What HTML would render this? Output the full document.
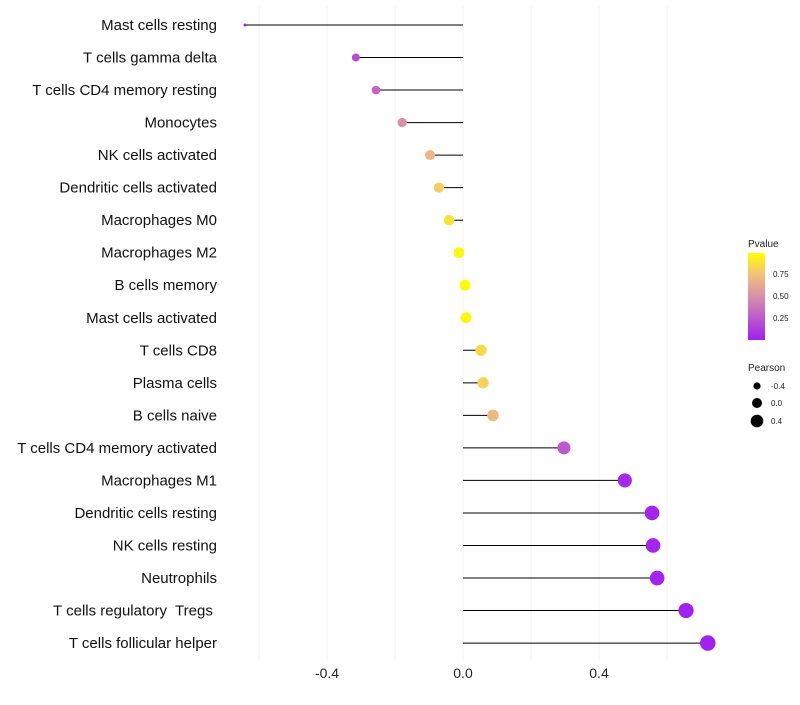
<!DOCTYPE html>
<html><head><meta charset="utf-8"><style>
body{margin:0;background:#fff;font-family:"Liberation Sans",sans-serif}
text{white-space:pre}
</style></head><body>
<svg id="chart" width="800" height="700" xmlns="http://www.w3.org/2000/svg">
<defs><linearGradient id="pg" x1="0" y1="1" x2="0" y2="0"><stop offset="0" stop-color="#A020F0"/><stop offset="0.5" stop-color="#DA8FAA"/><stop offset="0.75" stop-color="#F2C07C"/><stop offset="1" stop-color="#FFFF00"/></linearGradient></defs>
<g id="grid"></g><g id="marks"></g><g id="labels"></g>
<g>
<text x="748" y="247" font-size="10" fill="#222">Pvalue</text>
<rect x="748" y="253" width="17" height="87" fill="url(#pg)"/>
<text x="773" y="277" font-size="8" fill="#222">0.75</text>
<text x="773" y="299" font-size="8" fill="#222">0.50</text>
<text x="773" y="321" font-size="8" fill="#222">0.25</text>
</g>
<g>
<text x="748" y="371" font-size="10" fill="#222">Pearson</text>
<circle cx="757" cy="386" r="3.6" fill="#000"/><text x="771" y="389" font-size="8" fill="#222">-0.4</text>
<circle cx="757" cy="403" r="5" fill="#000"/><text x="771" y="406" font-size="8" fill="#222">0.0</text>
<circle cx="757" cy="421" r="6.3" fill="#000"/><text x="771" y="424" font-size="8" fill="#222">0.4</text>
</g>
</svg>
<script>
const categories=["Mast cells resting","T cells gamma delta","T cells CD4 memory resting","Monocytes","NK cells activated","Dendritic cells activated","Macrophages M0","Macrophages M2","B cells memory","Mast cells activated","T cells CD8","Plasma cells","B cells naive","T cells CD4 memory activated","Macrophages M1","Dendritic cells resting","NK cells resting","Neutrophils","T cells regulatory  Tregs ","T cells follicular helper"];
const pearson=[-0.641,-0.315,-0.256,-0.179,-0.097,-0.071,-0.041,-0.012,0.006,0.009,0.053,0.059,0.088,0.297,0.476,0.556,0.559,0.571,0.656,0.72];
const pvalues=[0.003,0.2,0.3,0.5,0.7,0.8,0.88,0.96,0.98,0.97,0.85,0.82,0.72,0.25,0.04,0.02,0.02,0.02,0.01,0.005];
const xTicks=[-0.4,0.0,0.4];
const gridVals=[-0.6,-0.4,-0.2,0,0.2,0.4,0.6];
const NS="http://www.w3.org/2000/svg";
const x=v=>463+v*340;
const y=i=>25+i*32.53;
function mk(t,a,p){const e=document.createElementNS(NS,t);for(const k in a)e.setAttribute(k,a[k]);p.appendChild(e);return e;}
const stops=[[0,[160,32,240]],[0.5,[218,143,170]],[0.75,[242,192,124]],[1,[255,255,0]]];
function col(p){for(let k=1;k<stops.length;k++){if(p<=stops[k][0]){const a=stops[k-1],b=stops[k];const t=(p-a[0])/(b[0]-a[0]);return "rgb("+a[1].map((c,i)=>Math.round(c+(b[1][i]-c)*t)).join(",")+")";}}return "rgb(255,255,0)";}
const vmin=Math.min(...pearson),vmax=Math.max(...pearson);
function rad(v){const t=(v-vmin)/(vmax-vmin);return Math.sqrt(2.25+58*t);}
const g=document.getElementById("grid"),m=document.getElementById("marks"),l=document.getElementById("labels");
gridVals.forEach(v=>{const e=mk("line",{x1:x(v),x2:x(v),y1:6,y2:660,stroke:"#f3f3f3","stroke-width":1},g);

});
xTicks.forEach(v=>{const t=mk("text",{x:x(v),y:678,"font-size":14,"text-anchor":"middle",fill:"#222"},l);t.textContent=v.toFixed(1);

});
categories.forEach((c,i)=>{
const s=mk("line",{x1:x(0),x2:x(pearson[i]),y1:y(i),y2:y(i),stroke:"#000","stroke-width":1},m);


const d=mk("circle",{cx:x(pearson[i]),cy:y(i),r:rad(pearson[i]),fill:col(pvalues[i])},m);


const t=mk("text",{x:217,y:y(i)+5,"font-size":15,"text-anchor":"end",fill:"#111"},l);t.textContent=c;


});
</script>
</body></html>
